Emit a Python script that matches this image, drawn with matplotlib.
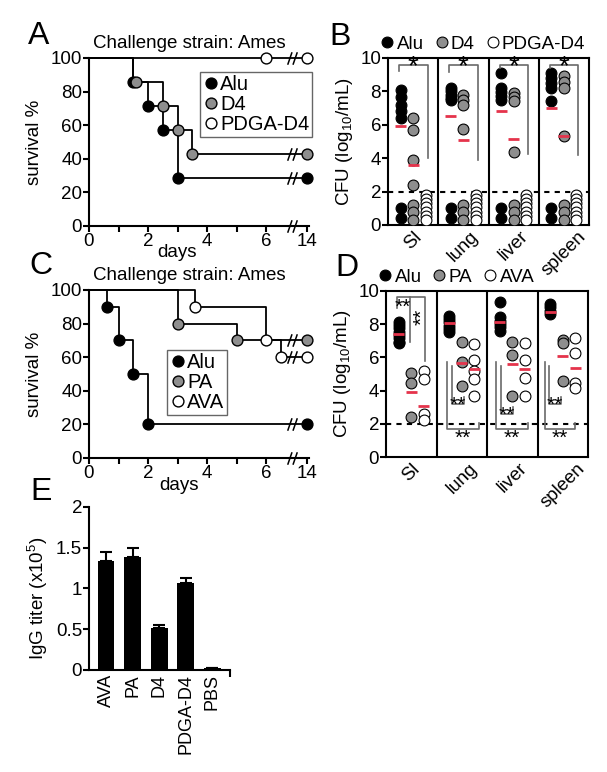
import numpy as np
import matplotlib
matplotlib.use("Agg")
import matplotlib.pyplot as plt
from matplotlib.path import Path

plt.rcParams['font.family'] = ['Liberation Sans', 'DejaVu Sans']
plt.rcParams['mathtext.fontset'] = 'custom'
plt.rcParams['mathtext.rm'] = 'Liberation Sans'
plt.rcParams['mathtext.it'] = 'Liberation Sans:italic'
plt.rcParams['axes.linewidth'] = 1.5
for a in ('xtick', 'ytick'):
    plt.rcParams[a + '.major.width'] = 1.5
    plt.rcParams[a + '.minor.width'] = 1.5
    plt.rcParams[a + '.major.size'] = 4
    plt.rcParams[a + '.labelsize'] = 13.5
    plt.rcParams[a + '.direction'] = 'out'

# ---- A: survival, challenge Ames
a_alu_t = [0, 1.5, 2, 2.5, 3, 14]
a_alu_s = [100, 85.7, 71.4, 57.1, 28.6, 28.6]
a_alu_marks = [1.5, 2, 2.5, 3, 14]
a_d4_t = [0, 1.5, 2.5, 3, 3.5, 14]
a_d4_s = [100, 85.7, 71.4, 57.1, 42.9, 42.9]
a_d4_marks = [1.6, 2.5, 3, 3.5, 14]
a_pdga_t = [0, 14]
a_pdga_s = [100, 100]
a_pdga_marks = [6, 14]

# ---- C: survival, challenge Ames
c_alu_t = [0, 0.6, 1.0, 1.5, 2.0, 14]
c_alu_s = [100, 90, 70, 50, 20, 20]
c_alu_marks = [0.6, 1.0, 1.5, 2.0, 14]
c_pa_t = [0, 3.0, 5.0, 14]
c_pa_s = [100, 80, 70, 70]
c_pa_marks = [3.0, 5.0, 14]
c_ava_t = [0, 3.6, 6.0, 6.5, 14]
c_ava_s = [100, 90, 70, 60, 60]
c_ava_marks = [3.6, 6.0, 6.5, 14]

# ---- B: CFU per organ
organs = ['SI', 'lung', 'liver', 'spleen']
b_alu = [[8.1, 7.65, 7.2, 6.8, 6.4, 1.0, 0.4],
         [8.2, 8.0, 7.8, 7.6, 7.5, 1.0, 0.4],
         [9.1, 8.2, 7.95, 7.7, 7.5, 1.0, 0.4],
         [9.1, 8.8, 8.5, 8.2, 7.4, 1.0, 0.4]]
b_d4 = [[6.4, 5.7, 3.9, 2.4, 1.2, 0.75, 0.3],
        [7.8, 7.5, 7.2, 5.75, 1.2, 0.75, 0.3],
        [7.9, 7.65, 7.4, 4.4, 1.2, 0.75, 0.3],
        [8.9, 8.55, 8.2, 5.35, 1.2, 0.75, 0.3]]
b_pdga = [[1.8, 1.55, 1.3, 1.05, 0.8, 0.55, 0.3],
          [1.8, 1.55, 1.3, 1.05, 0.8, 0.55, 0.3],
          [1.8, 1.55, 1.3, 1.05, 0.8, 0.55, 0.3],
          [1.8, 1.55, 1.3, 1.05, 0.8, 0.55, 0.3]]
b_alu_mean = [5.9, 6.5, 6.8, 7.0]
b_d4_mean = [3.6, 5.1, 5.15, 5.35]

# ---- D: CFU per organ
d_alu = [[8.15, 7.95, 7.75, 7.55, 7.35, 7.15, 6.95, 6.85],
         [8.5, 8.3, 8.1, 7.9, 7.7, 7.5],
         [9.3, 8.4, 8.2, 8.0, 7.8, 7.6],
         [9.2, 9.0, 8.8, 8.6]]
d_pa = [[5.05, 4.45, 2.4], [6.9, 5.7, 4.3], [6.95, 6.15, 3.7], [7.05, 6.85, 4.55]]
d_ava = [[5.2, 4.7, 2.6, 2.25], [6.8, 5.85, 5.2, 4.7, 3.65],
         [6.85, 5.85, 4.75, 3.65], [7.15, 6.25, 4.45, 4.15]]
d_alu_mean = [7.4, 8.05, 8.1, 8.7]
d_pa_mean = [3.9, 5.65, 5.6, 6.1]
d_ava_mean = [3.1, 5.3, 5.3, 5.38]

# ---- E: IgG titer
e_groups = ['AVA', 'PA', 'D4', 'PDGA-D4', 'PBS']
e_mean = [1.33, 1.38, 0.52, 1.06, 0.03]
e_sem = [0.11, 0.12, 0.03, 0.07, 0.0]

GRAY = '#8e8e8e'
RED = '#e5334b'
BRK_X = 6.87
BRK = Path([(-1.0, -1.3), (-0.1, 1.3), (0.1, -1.3), (1.0, 1.3)],
           [Path.MOVETO, Path.LINETO, Path.MOVETO, Path.LINETO])

W, H = 607, 772
fig = plt.figure(figsize=(W / 100, H / 100), dpi=100)


def add_ax(l, t, r, b):
    return fig.add_axes([l / W, 1 - b / H, (r - l) / W, (b - t) / H])


def tx(t):
    # broken x axis: day 14 drawn just after the break
    return t if t < 7 else 7.4


def km_panel(ax, series, leg_anchor):
    handles = []
    for t, s, marks, fc, lab in series:
        ax.step([tx(v) for v in t], s, where='post', color='k', lw=1.3,
                clip_on=False, zorder=3)
        ms_ = [s[np.searchsorted(t, m, side='right') - 1] for m in marks]
        h, = ax.plot([tx(m) for m in marks], ms_, 'o', ls='none', ms=7.8, mfc=fc,
                     mec='k', mew=1, clip_on=False, zorder=4, label=lab)
        handles.append(h)
        ax.plot([BRK_X], [s[-1]], marker=BRK, ms=9, mfc='none', mec='k', mew=1.1,
                ls='none', clip_on=False, zorder=5)
    ax.plot([BRK_X], [0], marker=BRK, ms=9, mfc='none', mec='k', mew=1.1,
            ls='none', clip_on=False, zorder=5)
    ax.set_xlim(0, 7.45)
    ax.set_ylim(0, 100)
    ax.set_xticks([0, 1, 2, 3, 4, 5, 6, 7.4])
    ax.set_xticklabels(['0', '', '2', '', '4', '', '6', '14'])
    ax.set_yticks(range(0, 101, 20))
    ax.spines[['top', 'right']].set_visible(False)
    ax.tick_params(pad=1)
    ax.set_ylabel('survival %', fontsize=13.5)
    ax.yaxis.set_label_coords(-0.21, 0.5)
    ax.set_xlabel('days', fontsize=13.5)
    ax.text(0.457, 1.085, 'Challenge strain: Ames', transform=ax.transAxes,
            ha='center', va='center', fontsize=13.5)
    leg = ax.legend(handles=handles, loc='upper left', bbox_to_anchor=leg_anchor,
                    fontsize=14.5, frameon=True, fancybox=False, edgecolor='#666666',
                    framealpha=1, handletextpad=0.05, handlelength=0.8,
                    borderpad=0.15, labelspacing=0.05, borderaxespad=0)
    leg.get_frame().set_linewidth(1.0)


def cfu_panel(ax, groups, colors, labels, means, leg_anchor):
    offs = [-0.25, 0, 0.25]
    handles = []
    for j, (g, c, lab) in enumerate(zip(groups, colors, labels)):
        for i in range(4):
            h, = ax.plot([i + offs[j]] * len(g[i]), g[i], 'o', ls='none', ms=7.8,
                         mfc=c, mec='k', mew=0.8, zorder=3, label=lab)
        handles.append(h)
    for j, m in enumerate(means):
        for i in range(4):
            ax.plot([i + offs[j] - 0.11, i + offs[j] + 0.11], [m[i], m[i]],
                    color=RED, lw=2, zorder=5, solid_capstyle='butt')
    ax.axhline(2, color='k', lw=1.5, ls=(0, (2.5, 2.5)), zorder=2)
    for xv in (0.5, 1.5, 2.5):
        ax.axvline(xv, color='k', lw=1.5)
    ax.set_xlim(-0.5, 3.5)
    ax.set_ylim(0, 10)
    ax.set_yticks(range(0, 11, 2))
    ax.set_xticks(range(4))
    ax.set_xticklabels(organs, rotation=45, ha='center', fontsize=13.5)
    ax.tick_params(axis='x', length=0, pad=2)
    ax.tick_params(axis='y', pad=1)
    ax.set_ylabel('CFU (log$_{10}$/mL)', fontsize=13.5)
    ax.yaxis.set_label_coords(-0.165, 0.5)
    ax.legend(handles=handles, loc='lower left', bbox_to_anchor=leg_anchor, ncol=3,
              frameon=False, fontsize=13.5, handletextpad=0.0, handlelength=1.0,
              columnspacing=0.45, borderaxespad=0, borderpad=0)


# ---------- A
axA = add_ax(89, 58, 89 + 7.45 * 29.5, 226)
km_panel(axA, [(a_alu_t, a_alu_s, a_alu_marks, 'k', 'Alu'),
               (a_d4_t, a_d4_s, a_d4_marks, GRAY, 'D4'),
               (a_pdga_t, a_pdga_s, a_pdga_marks, 'white', 'PDGA-D4')],
         (0.505, 0.917))
axA.xaxis.set_label_coords(0.4, -0.105)

# ---------- C
axC = add_ax(89, 290, 89 + 7.45 * 29.5, 458)
km_panel(axC, [(c_alu_t, c_alu_s, c_alu_marks, 'k', 'Alu'),
               (c_pa_t, c_pa_s, c_pa_marks, GRAY, 'PA'),
               (c_ava_t, c_ava_s, c_ava_marks, 'white', 'AVA')],
         (0.355, 0.643))
axC.xaxis.set_label_coords(0.41, -0.115)

# ---------- B
axB = add_ax(388, 58, 589, 225)
cfu_panel(axB, [b_alu, b_d4, b_pdga], ['k', GRAY, 'white'], ['Alu', 'D4', 'PDGA-D4'],
          [b_alu_mean, b_d4_mean], (-0.05, 1.03))
b_left_end = [9.25, 9.15, 9.4, 9.4]
b_right_end = [4.0, 3.9, 4.25, 4.2]
for i in range(4):
    axB.plot([i - 0.28, i - 0.28, i + 0.29, i + 0.29], [b_left_end[i], 9.6, 9.6, b_right_end[i]],
             color='#6a6a6a', lw=1.2, zorder=4)
    axB.text(i, 9.45, '*', ha='center', va='center', fontsize=20, zorder=6)

# ---------- D
axD = add_ax(386, 290.7, 588, 457.3)
cfu_panel(axD, [d_alu, d_pa, d_ava], ['k', GRAY, 'white'], ['Alu', 'PA', 'AVA'],
          [d_alu_mean, d_pa_mean, d_ava_mean], (-0.05, 1.03))
bc = '#6a6a6a'
axD.plot([-0.28, -0.28, 0.28, 0.28], [8.95, 9.65, 9.65, 5.8], color=bc, lw=1.2, zorder=4)
axD.plot([-0.02, -0.02], [9.65, 6.9], color=bc, lw=1.2, zorder=4)
axD.text(-0.16, 9.0, '**', ha='center', va='center', fontsize=15, zorder=6)
axD.text(0.21, 8.4, '**', ha='center', va='center', fontsize=15, rotation=90, zorder=6)
d_brk = {1: (-0.30, -0.20, 0.05, 0.35, 3.2),
         2: (-0.33, -0.23, 0.02, 0.32, 2.6),
         3: (-0.35, -0.27, -0.04, 0.24, 3.2)}
for i, (ol, il, ir, orr, iy) in d_brk.items():
    axD.plot([i + il, i + il, i + ir, i + ir], [5.5, iy, iy, iy + 0.4], color=bc, lw=1.2, zorder=4)
    axD.plot([i + ol, i + ol, i + orr, i + orr], [5.7, 1.7, 1.7, 2.05], color=bc, lw=1.2, zorder=4)
    axD.text(i + (il + ir) / 2, iy - 0.1, '**', ha='center', va='center', fontsize=15, zorder=6)
    axD.text(i + (ol + orr) / 2, 1.15, '**', ha='center', va='center', fontsize=15, zorder=6)

# ---------- E
axE = add_ax(89, 506.7, 230, 670)
xe = np.arange(len(e_groups))
axE.bar(xe, e_mean, width=0.63, color='k', zorder=3)
axE.errorbar(xe, e_mean, yerr=[np.zeros(len(e_sem)), e_sem], fmt='none', ecolor='k',
             elinewidth=1.5, capsize=4, capthick=1.5, zorder=2)
axE.set_xlim(-0.64, 4.66)
axE.set_ylim(0, 2)
axE.set_yticks([0, 0.5, 1, 1.5, 2])
axE.set_yticklabels(['0', '0.5', '1', '1.5', '2'])
axE.set_xticks(xe)
axE.set_xticklabels(e_groups, rotation=90, fontsize=13)
axE.set_xticks([4.66], minor=True)
axE.tick_params(axis='x', which='major', length=0, pad=3)
axE.tick_params(axis='x', which='minor', length=5)
axE.tick_params(axis='y', pad=1)
axE.spines[['top', 'right']].set_visible(False)
axE.set_ylabel('IgG titer (x10$^5$)', fontsize=13.5)
axE.yaxis.set_label_coords(-0.277, 0.44)

# panel letters
for lab, x, y in [('A', 39, 36), ('B', 340, 37), ('C', 41, 266), ('D', 347, 268), ('E', 41, 492)]:
    fig.text(x / W, 1 - y / H, lab, fontsize=23, ha='center', va='center')

fig.savefig('out.png', dpi=100)
